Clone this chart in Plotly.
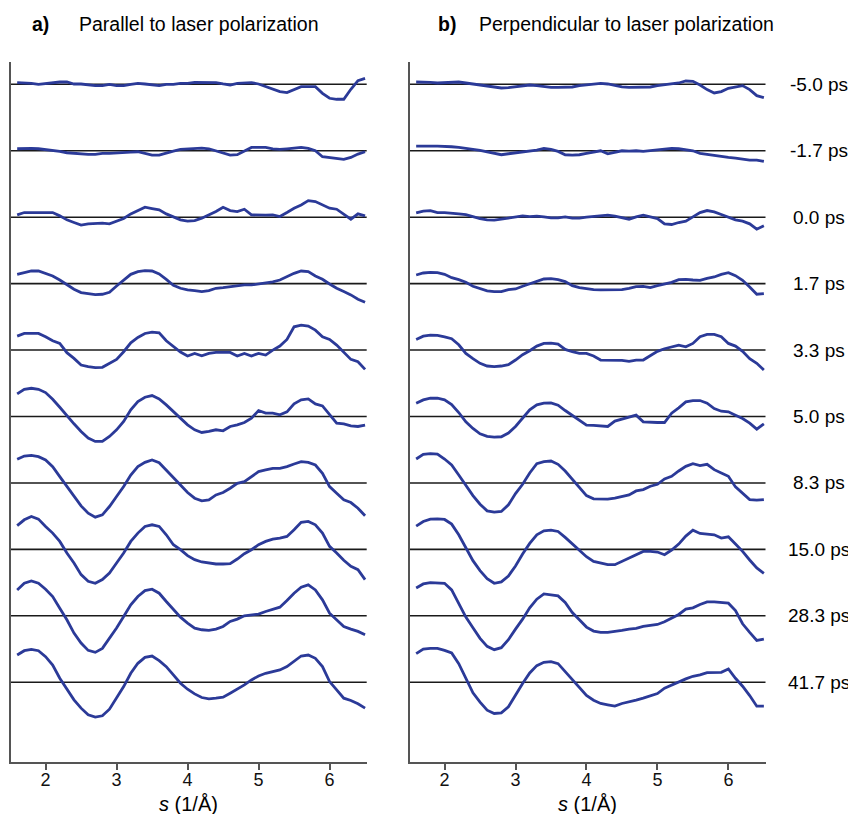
import plotly.graph_objects as go

s_values = [1.6, 1.7, 1.8, 1.9, 2.0, 2.1, 2.2, 2.3, 2.4, 2.5, 2.6, 2.7, 2.8, 2.9, 3.0,
            3.1, 3.2, 3.3, 3.4, 3.5, 3.6, 3.7, 3.8, 3.9, 4.0, 4.1, 4.2, 4.3, 4.4, 4.5,
            4.6, 4.7, 4.8, 4.9, 5.0, 5.1, 5.2, 5.3, 5.4, 5.5, 5.6, 5.7, 5.8, 5.9, 6.0,
            6.1, 6.2, 6.3, 6.4, 6.5]

delay_labels = ["-5.0 ps", "-1.7 ps", "0.0 ps", "1.7 ps", "3.3 ps", "5.0 ps",
                "8.3 ps", "15.0 ps", "28.3 ps", "41.7 ps"]

par_m5_0 = [0.025, 0.025, 0.015, 0, 0.015, 0.025, 0.035, 0.035, 0.005, 0.005, -0.01, -0.02, -0.02, 0, -0.02,
            -0.02, 0, 0.015, 0.005, -0.01, -0.02, 0, 0, 0.015, 0.015, 0.03, 0.025, 0.025, 0.025, 0.005,
            -0.01, 0.015, 0.015, 0.025, 0.005, -0.035, -0.07, -0.11, -0.125, -0.075, -0.035, -0.035, -0.035, -0.135, -0.21,
            -0.225, -0.225, -0.075, 0.055, 0.09]
par_m1_7 = [0.03, 0.035, 0.035, 0.03, 0.02, 0.01, -0.01, -0.03, -0.04, -0.04, -0.055, -0.055, -0.04, -0.04, -0.03,
            -0.02, -0.02, -0.015, -0.04, -0.065, -0.065, -0.03, -0.005, 0.02, 0.03, 0.03, 0.04, 0.03, 0, -0.04,
            -0.065, -0.06, 0, 0.05, 0.05, 0.05, 0.03, 0.02, 0.03, 0.04, 0.05, 0.035, 0, -0.09, -0.1,
            -0.12, -0.13, -0.1, -0.05, -0.015]
par_0_0 = [0.035, 0.07, 0.07, 0.07, 0.07, 0.07, 0.02, -0.04, -0.08, -0.12, -0.1, -0.09, -0.09, -0.1, -0.065,
           -0.02, 0.05, 0.1, 0.15, 0.13, 0.11, 0.05, 0, -0.04, -0.06, -0.05, -0.015, 0.035, 0.085, 0.15,
           0.1, 0.085, 0.12, 0.035, 0.03, 0.03, 0.035, 0.01, 0.07, 0.135, 0.185, 0.25, 0.235, 0.185, 0.135,
           0.12, 0.05, -0.03, 0.05, 0.02]
par_1_7 = [0.14, 0.165, 0.19, 0.19, 0.155, 0.115, 0.055, -0.02, -0.085, -0.135, -0.155, -0.165, -0.16, -0.13, -0.035,
           0.055, 0.14, 0.18, 0.195, 0.19, 0.145, 0.065, -0.025, -0.07, -0.095, -0.105, -0.12, -0.105, -0.07, -0.06,
           -0.045, -0.025, -0.02, -0.02, -0.005, 0.015, 0.025, 0.055, 0.105, 0.155, 0.19, 0.18, 0.115, 0.065, -0.005,
           -0.07, -0.12, -0.17, -0.235, -0.28]
par_3_3 = [0.21, 0.25, 0.25, 0.25, 0.2, 0.14, 0.1, -0.04, -0.125, -0.225, -0.25, -0.265, -0.26, -0.2, -0.14,
           -0.025, 0.11, 0.19, 0.25, 0.27, 0.26, 0.14, 0.06, -0.03, -0.09, -0.05, -0.085, -0.05, -0.035, -0.035,
           -0.035, -0.09, -0.05, -0.09, -0.05, -0.075, 0, 0.06, 0.16, 0.35, 0.375, 0.36, 0.3, 0.2, 0.16,
           0.075, -0.04, -0.14, -0.175, -0.29]
par_5_0 = [0.34, 0.41, 0.425, 0.41, 0.36, 0.26, 0.14, 0.01, -0.11, -0.225, -0.325, -0.375, -0.375, -0.3, -0.2,
           -0.075, 0.1, 0.225, 0.29, 0.315, 0.265, 0.175, 0.075, -0.01, -0.125, -0.2, -0.24, -0.225, -0.2, -0.215,
           -0.15, -0.125, -0.09, -0.025, 0.09, 0.05, 0.05, 0.025, 0.07, 0.19, 0.25, 0.265, 0.19, 0.16, 0.025,
           -0.1, -0.11, -0.14, -0.15, -0.13]
par_8_3 = [0.355, 0.405, 0.415, 0.395, 0.345, 0.245, 0.095, -0.055, -0.205, -0.345, -0.455, -0.515, -0.48, -0.355, -0.205,
           -0.055, 0.12, 0.245, 0.31, 0.345, 0.305, 0.195, 0.095, -0.03, -0.145, -0.23, -0.27, -0.255, -0.18, -0.145,
           -0.08, -0.005, 0.02, 0.095, 0.17, 0.195, 0.22, 0.22, 0.245, 0.285, 0.32, 0.31, 0.27, 0.145, -0.055,
           -0.155, -0.255, -0.295, -0.38, -0.495]
par_15_0 = [0.357, 0.445, 0.495, 0.455, 0.345, 0.245, 0.12, -0.055, -0.205, -0.38, -0.48, -0.51, -0.455, -0.355, -0.205,
            -0.055, 0.12, 0.245, 0.345, 0.37, 0.345, 0.22, 0.07, -0.005, -0.095, -0.155, -0.19, -0.205, -0.22, -0.22,
            -0.215, -0.145, -0.065, -0.005, 0.07, 0.12, 0.155, 0.17, 0.195, 0.295, 0.407, 0.42, 0.37, 0.245, 0.045,
            -0.055, -0.165, -0.255, -0.305, -0.455]
par_28_3 = [0.39, 0.49, 0.525, 0.49, 0.4, 0.29, 0.115, -0.06, -0.26, -0.41, -0.52, -0.55, -0.49, -0.335, -0.185,
            -0.01, 0.165, 0.29, 0.38, 0.4, 0.34, 0.215, 0.09, -0.02, -0.11, -0.185, -0.21, -0.22, -0.2, -0.16,
            -0.085, -0.05, 0, 0.015, 0.025, 0.065, 0.1, 0.13, 0.23, 0.34, 0.43, 0.465, 0.39, 0.24, 0.04,
            -0.06, -0.16, -0.2, -0.235, -0.285]
par_41_7 = [0.41, 0.475, 0.495, 0.475, 0.385, 0.26, 0.06, -0.105, -0.265, -0.39, -0.49, -0.525, -0.505, -0.405, -0.24,
            -0.065, 0.135, 0.285, 0.375, 0.395, 0.325, 0.235, 0.11, -0.015, -0.105, -0.175, -0.23, -0.25, -0.24, -0.225,
            -0.165, -0.105, -0.04, 0.035, 0.095, 0.135, 0.16, 0.185, 0.235, 0.31, 0.395, 0.41, 0.36, 0.235, 0.01,
            -0.115, -0.24, -0.275, -0.325, -0.39]

perp_m5_0 = [0.035, 0.035, 0.03, 0.02, 0.025, 0.03, 0.035, 0.02, 0.005, -0.01, -0.02, -0.045, -0.055, -0.05, -0.04,
             -0.02, -0.01, -0.02, -0.035, -0.045, -0.045, -0.045, -0.04, -0.02, -0.01, 0, 0.015, 0.005, -0.02, -0.04,
             -0.045, -0.045, -0.045, -0.04, -0.02, -0.005, 0, 0.02, 0.05, 0.045, -0.01, -0.08, -0.13, -0.11, -0.06,
             -0.04, -0.02, -0.08, -0.17, -0.2]
perp_m1_7 = [0.07, 0.075, 0.07, 0.07, 0.07, 0.06, 0.05, 0.03, 0.02, 0.005, -0.02, -0.04, -0.06, -0.045, -0.03,
             -0.02, -0.01, 0.01, 0.035, 0.02, -0.01, -0.06, -0.065, -0.06, -0.04, -0.02, 0, -0.045, -0.02, 0,
             -0.005, 0, -0.01, 0, 0.02, 0.03, 0.035, 0.03, 0.02, 0, -0.04, -0.055, -0.07, -0.095, -0.1,
             -0.11, -0.13, -0.14, -0.14, -0.16]
perp_0_0 = [0.065, 0.09, 0.1, 0.07, 0.07, 0.055, 0.05, 0.04, 0.005, -0.02, -0.04, -0.045, -0.03, -0.01, 0,
            0.02, 0.01, 0.015, 0.005, -0.01, -0.01, 0.005, -0.015, -0.015, 0, 0.01, 0.025, 0.03, 0.015, -0.01,
            -0.03, 0.005, 0.03, 0.005, -0.02, -0.1, -0.11, -0.08, -0.06, 0.005, 0.07, 0.1, 0.08, 0.04, 0,
            -0.04, -0.06, -0.1, -0.18, -0.13]
perp_1_7 = [0.13, 0.16, 0.17, 0.165, 0.14, 0.09, 0.06, 0.02, -0.04, -0.08, -0.11, -0.12, -0.12, -0.09, -0.08,
            -0.04, 0, 0.04, 0.07, 0.075, 0.06, 0.03, -0.03, -0.06, -0.08, -0.09, -0.095, -0.095, -0.095, -0.09,
            -0.07, -0.045, -0.04, -0.06, -0.03, -0.01, 0.02, 0.06, 0.065, 0.055, 0.05, 0.08, 0.1, 0.14, 0.165,
            0.12, 0.05, -0.05, -0.16, -0.15]
perp_3_3 = [0.16, 0.21, 0.225, 0.22, 0.2, 0.17, 0.08, -0.05, -0.13, -0.2, -0.24, -0.25, -0.24, -0.22, -0.15,
            -0.07, -0.01, 0.06, 0.1, 0.105, 0.09, 0.01, -0.025, -0.05, -0.05, -0.09, -0.15, -0.15, -0.16, -0.155,
            -0.17, -0.15, -0.15, -0.08, -0.02, 0.02, 0.05, 0.075, 0.05, 0.1, 0.2, 0.235, 0.235, 0.2, 0.1,
            0.06, -0.02, -0.13, -0.2, -0.3]
perp_5_0 = [0.2, 0.25, 0.275, 0.275, 0.25, 0.18, 0.06, -0.08, -0.18, -0.26, -0.3, -0.31, -0.305, -0.25, -0.15,
            -0.02, 0.1, 0.175, 0.2, 0.205, 0.17, 0.09, 0.02, -0.06, -0.13, -0.135, -0.14, -0.15, -0.07, -0.04,
            -0.01, 0.02, -0.08, -0.09, -0.09, -0.09, 0.05, 0.13, 0.22, 0.24, 0.24, 0.2, 0.12, 0.08, 0.07,
            0.02, -0.03, -0.1, -0.19, -0.11]
perp_8_3 = [0.36, 0.43, 0.44, 0.435, 0.36, 0.27, 0.12, -0.04, -0.19, -0.32, -0.42, -0.44, -0.43, -0.33, -0.16,
            -0.02, 0.15, 0.29, 0.32, 0.33, 0.28, 0.18, 0.06, -0.07, -0.19, -0.24, -0.245, -0.245, -0.23, -0.2,
            -0.18, -0.12, -0.1, -0.05, -0.02, 0.06, 0.1, 0.18, 0.25, 0.29, 0.26, 0.28, 0.2, 0.15, 0.1,
            -0.06, -0.16, -0.25, -0.26, -0.25]
perp_15_0 = [0.35, 0.42, 0.455, 0.46, 0.45, 0.38, 0.22, 0.02, -0.17, -0.32, -0.44, -0.51, -0.49, -0.4, -0.25,
             -0.07, 0.09, 0.22, 0.28, 0.29, 0.27, 0.18, 0.08, -0.01, -0.11, -0.18, -0.2, -0.23, -0.23, -0.18,
             -0.12, -0.07, -0.03, -0.03, -0.04, -0.08, -0.01, 0.08, 0.2, 0.29, 0.24, 0.23, 0.22, 0.17, 0.19,
             0.08, -0.03, -0.16, -0.28, -0.36]
perp_28_3 = [0.42, 0.48, 0.5, 0.5, 0.49, 0.39, 0.18, -0.02, -0.18, -0.34, -0.46, -0.51, -0.48, -0.36, -0.2,
             -0.05, 0.12, 0.25, 0.33, 0.32, 0.3, 0.2, 0.05, -0.06, -0.17, -0.23, -0.25, -0.25, -0.24, -0.22,
             -0.2, -0.19, -0.16, -0.15, -0.13, -0.09, -0.04, 0.02, 0.1, 0.12, 0.17, 0.21, 0.21, 0.2, 0.19,
             0.08, -0.12, -0.25, -0.37, -0.35]
perp_41_7 = [0.43, 0.5, 0.51, 0.51, 0.48, 0.44, 0.28, 0.06, -0.16, -0.3, -0.42, -0.47, -0.46, -0.37, -0.19,
             -0.02, 0.14, 0.25, 0.3, 0.31, 0.28, 0.16, 0.03, -0.09, -0.2, -0.27, -0.32, -0.34, -0.36, -0.32,
             -0.3, -0.27, -0.24, -0.2, -0.17, -0.09, -0.04, 0, 0.05, 0.09, 0.11, 0.145, 0.145, 0.15, 0.2,
             0.06, -0.06, -0.2, -0.36, -0.36]

parallel_series = [par_m5_0, par_m1_7, par_0_0, par_1_7, par_3_3, par_5_0,
                   par_8_3, par_15_0, par_28_3, par_41_7]
perpendicular_series = [perp_m5_0, perp_m1_7, perp_0_0, perp_1_7, perp_3_3, perp_5_0,
                        perp_8_3, perp_15_0, perp_28_3, perp_41_7]

x_ticks = [2, 3, 4, 5, 6]

# page body has an 8 px margin; lay the figure out in page pixels minus that offset
OFF = 8
W, H = 856 - OFF, 814 - OFF
CURVE = "rgb(43,58,152)"
AXIS = "#555555"
FONT = "Liberation Sans, Arial, sans-serif"


def px(xp):
    return (xp - OFF) / W


def py(yp):
    return 1 - (yp - OFF) / H


fig = go.Figure()

for panel, series in (("x", parallel_series), ("x2", perpendicular_series)):
    yref = "y" if panel == "x" else "y2"
    for i, vals in enumerate(series):
        offset = -i
        fig.add_shape(type="line", xref=f"{panel} domain", yref=yref,
                      x0=0, x1=1, y0=offset, y1=offset,
                      line=dict(color="#1a1a1a", width=1.6), layer="below")
        fig.add_trace(go.Scatter(
            x=s_values, y=[offset + v for v in vals], mode="lines",
            line=dict(color=CURVE, width=2.8), xaxis=panel, yaxis=yref,
            showlegend=False, hoverinfo="skip"))

xr = [1.513, 6.523]
yr = [-10.205, 0.336]
ydom = [py(762.3), py(62)]
axis_common = dict(range=xr, tickvals=x_ticks, ticks="outside", ticklen=6, tickwidth=1.8,
                   tickcolor=AXIS, showline=True, linecolor=AXIS, linewidth=1.8,
                   showgrid=False, zeroline=False, ticklabelstandoff=-6,
                   tickfont=dict(family=FONT, size=18, color="#111111"))
y_common = dict(range=yr, domain=ydom, showline=True, linecolor=AXIS, linewidth=1.8,
                showticklabels=False, ticks="", showgrid=False, zeroline=False)

fig.update_layout(
    width=W, height=H, margin=dict(l=0, r=0, t=0, b=0),
    paper_bgcolor="white", plot_bgcolor="white",
    xaxis=dict(domain=[px(11), px(366.7)], anchor="y", **axis_common),
    xaxis2=dict(domain=[px(410), px(765.5)], anchor="y2", **axis_common),
    yaxis=dict(anchor="x", **y_common),
    yaxis2=dict(anchor="x2", **y_common),
)

ann = []
title_y = py(24)
title_font = dict(family=FONT, size=19.5, color="black")
ann.append(dict(text="<b>a)</b>", x=px(30), y=title_y, xref="paper", yref="paper",
                xanchor="left", yanchor="middle", showarrow=False, font=title_font))
ann.append(dict(text="Parallel to laser polarization", x=px(77), y=title_y, xref="paper",
                yref="paper", xanchor="left", yanchor="middle", showarrow=False, font=title_font))
ann.append(dict(text="<b>b)</b>", x=px(436), y=title_y, xref="paper", yref="paper",
                xanchor="left", yanchor="middle", showarrow=False, font=title_font))
ann.append(dict(text="Perpendicular to laser polarization", x=px(477), y=title_y, xref="paper",
                yref="paper", xanchor="left", yanchor="middle", showarrow=False, font=title_font))
for i, lab in enumerate(delay_labels):
    ann.append(dict(text=lab, x=px(819), y=-i, xref="paper", yref="y2",
                    xanchor="center", yanchor="middle", showarrow=False,
                    font=dict(family=FONT, size=19, color="black")))
for xa in ("x", "x2"):
    ann.append(dict(text="<i>s</i> (1/Å)", x=0.5, y=py(804), xref=f"{xa} domain",
                    yref="paper", xanchor="center", yanchor="middle", showarrow=False,
                    font=dict(family=FONT, size=20, color="black")))
fig.update_layout(annotations=ann)

fig.write_html("out.html")
